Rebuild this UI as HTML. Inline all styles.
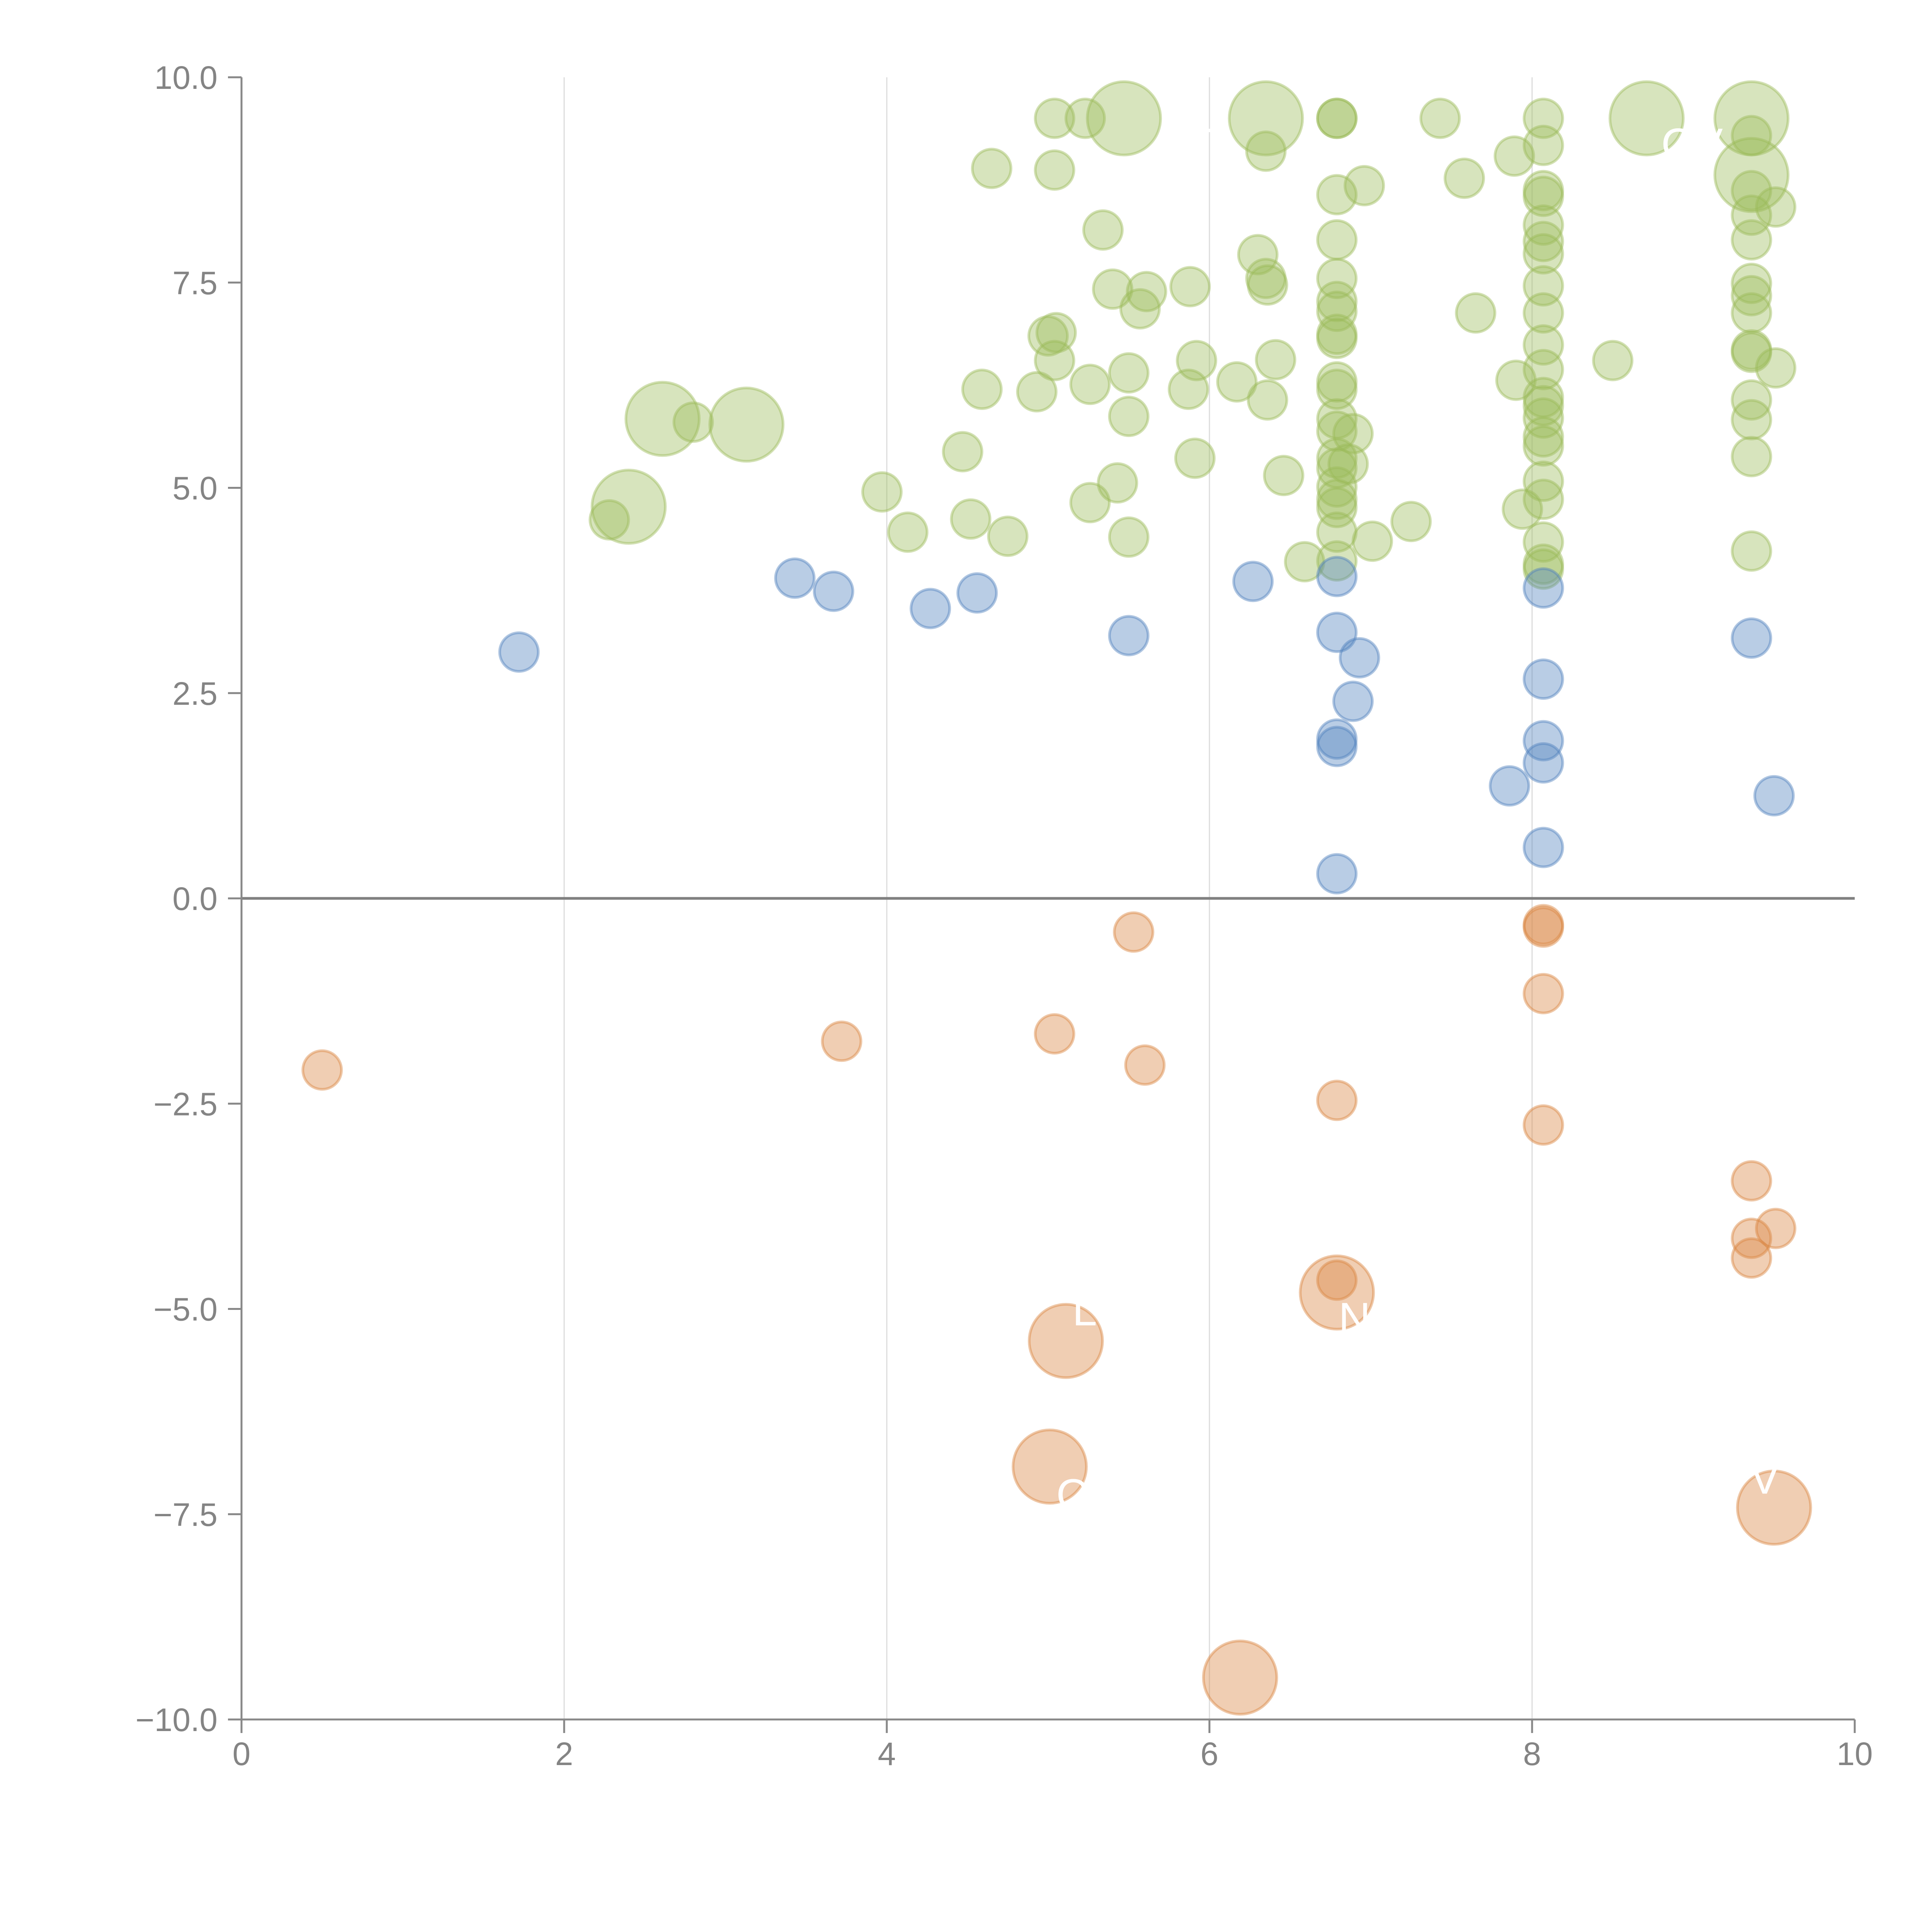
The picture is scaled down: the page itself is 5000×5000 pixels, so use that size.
<!DOCTYPE html>
<html><head><meta charset="utf-8"><style>
html,body{margin:0;padding:0;background:#fff}
svg{display:block}
text{font-family:"Liberation Sans",Arial,sans-serif}
</style></head><body>
<svg id="chart" width="5000" height="5000" viewBox="0 0 5000 5000">
<g id="grid"></g>
<g id="marks"></g>
<g id="labels"></g>
<g id="axes"></g>
</svg>
<script>
const xTicks = [0, 2, 4, 6, 8, 10];
const yTicks = [-10, -7.5, -5, -2.5, 0, 2.5, 5, 7.5, 10];
const yTickLabels = ["\u221210.0","\u22127.5","\u22125.0","\u22122.5","0.0","2.5","5.0","7.5","10.0"];

const greenX = [5.04,5.23,6.79,6.79,7.43,8.07,
 4.65,5.04,6.35,7.89,7.58,6.96,6.79,8.07,8.07,8.07,9.36,9.36,9.51,9.36,9.36,
 5.34,6.3,6.79,6.79,6.35,6.36,5.88,5.4,5.61,5.57,6.79,6.79,7.65,8.07,8.07,8.07,8.07,8.07,9.36,9.36,9.36,
 5.0,5.05,5.04,5.92,6.41,6.79,6.79,8.07,8.07,8.5,9.36,9.36,9.51,
 5.5,5.26,6.17,5.87,4.93,4.59,6.36,6.79,6.79,7.9,8.07,8.07,8.07,9.36,9.36,
 2.8,5.5,6.79,6.79,6.89,8.07,8.07,9.36,
 4.47,5.91,6.79,6.79,6.86,6.46,5.43,8.07,6.79,6.79,8.07,3.97,2.28,4.52,5.26,6.79,7.94,7.25,4.13,4.75,5.5,6.79,7.01,8.07,9.36,6.59,6.79,8.07,8.07];
const greenY = [9.5,9.5,9.5,9.5,9.5,9.5,
 8.89,8.87,9.1,9.04,8.77,8.68,8.57,9.17,8.62,8.55,9.29,8.62,8.42,8.32,8.02,
 8.14,7.84,8.02,7.55,7.55,7.47,7.45,7.42,7.39,7.18,7.27,7.15,7.13,8.2,8.0,7.85,7.46,7.13,7.49,7.34,7.13,
 6.85,6.89,6.55,6.55,6.56,6.87,6.82,6.74,6.44,6.55,6.68,6.65,6.46,
 6.4,6.26,6.29,6.2,6.17,6.2,6.07,6.29,6.2,6.31,6.1,6.0,5.85,6.07,5.83,
 5.8,5.87,5.84,5.69,5.66,5.62,5.51,5.38,
 5.44,5.36,5.36,5.24,5.29,5.15,5.06,5.08,5.01,4.86,4.86,4.95,4.61,4.62,4.82,4.76,4.74,4.59,4.46,4.41,4.4,4.46,4.35,4.34,4.23,4.1,4.11,4.07,4.01];
const greenSize = greenX.map(()=>1);
const greenBigX = [5.47,6.35,8.71,9.36,9.36,2.61,3.13,2.4];
const greenBigY = [9.5,9.5,9.5,9.5,8.81,5.84,5.77,4.77];

const blueX = [1.72,3.43,3.67,4.27,4.56,5.5,6.27,6.79,6.79,6.93,6.89,6.79,6.79,6.79,8.07,8.07,8.07,8.07,7.86,8.07,9.36,9.5];
const blueY = [3.0,3.9,3.74,3.53,3.72,3.2,3.86,3.92,3.24,2.93,2.4,1.94,1.85,0.3,3.78,2.67,1.92,1.65,1.37,0.62,3.17,1.25];

const orangeX = [0.5,3.72,5.04,5.53,5.6,6.79,8.07,8.07,8.07,8.07,9.36,9.36,9.51,9.36,6.79,6.79,5.11,5.01,9.5,6.19];
const orangeY = [-2.09,-1.74,-1.65,-0.41,-2.03,-2.46,-0.32,-0.35,-1.16,-2.76,-3.44,-4.14,-4.02,-4.38,-4.65,-4.8,-5.39,-6.92,-7.42,-9.49];
const orangeSize = [1,1,1,1,1,1,1,1,1,1,1,1,1,1,1,3.6,3.6,3.6,3.6,3.6];

const labelText = ["CT","CV","N","L","C","V"];
const labelX = [5.7,8.8,6.8,5.15,5.05,9.35];
const labelY = [9.0,9.0,-5.3,-5.2,-7.45,-7.25];

const X0=625, X1=4800, Y0=4450, Y1=200;
const sx = v => X0 + (v-0)/(10-0)*(X1-X0);
const sy = v => Y0 - (v+10)/20*(Y0-Y1);
const NS="http://www.w3.org/2000/svg";
const mk=(t,a,p)=>{const e=document.createElementNS(NS,t);for(const k in a)e.setAttribute(k,a[k]);p.appendChild(e);return e;};
const grid=document.getElementById('grid'), marks=document.getElementById('marks'), axes=document.getElementById('axes'), labels=document.getElementById('labels');

xTicks.forEach(t=>{ if(t>0&&t<10){
  const l=mk('line',{x1:sx(t),x2:sx(t),y1:Y1,y2:Y0,stroke:'#dcdcdc','stroke-width':3},grid);
  
  
}});

function bubble(x,y,s,color,name){
  const c=mk('circle',{cx:sx(x),cy:sy(y),r:50*Math.sqrt(s),fill:color,'fill-opacity':0.4,stroke:color,'stroke-opacity':0.45,'stroke-width':7},marks);
  
  
}
const G='#9bbb59', B='#4f81bd', O='#d98540';
greenX.forEach((x,i)=>bubble(x,greenY[i],greenSize[i],G,'green-bubble'));
greenBigX.forEach((x,i)=>bubble(x,greenBigY[i],3.6,G,'green-bubble-large'));
blueX.forEach((x,i)=>bubble(x,blueY[i],1,B,'blue-bubble'));
orangeX.forEach((x,i)=>bubble(x,orangeY[i],orangeSize[i],O,'orange-bubble'));

labelText.forEach((t,i)=>{
  const tx=mk('text',{x:sx(labelX[i]),y:sy(labelY[i]),fill:'#fff','font-size':115},labels);
  tx.textContent=t;
  
  
});

const z=mk('line',{x1:X0,x2:X1,y1:sy(0),y2:sy(0),stroke:'#808080','stroke-width':7},axes);


const ya=mk('line',{x1:X0,x2:X0,y1:Y1,y2:Y0+35,stroke:'#888','stroke-width':5},axes);


const xa=mk('line',{x1:X0-35,x2:X1,y1:Y0,y2:Y0,stroke:'#888','stroke-width':5},axes);


yTicks.forEach((t,i)=>{
  const tk=mk('line',{x1:X0-35,x2:X0,y1:sy(t),y2:sy(t),stroke:'#888','stroke-width':5},axes);
  
  
  const tl=mk('text',{x:X0-62,y:sy(t)+30,'text-anchor':'end',fill:'#848484','font-size':84},axes);
  tl.textContent=yTickLabels[i];
  
  
});
xTicks.forEach(t=>{
  const tk=mk('line',{x1:sx(t),x2:sx(t),y1:Y0,y2:Y0+35,stroke:'#888','stroke-width':5},axes);
  
  
  const tl=mk('text',{x:sx(t),y:Y0+118,'text-anchor':'middle',fill:'#848484','font-size':84},axes);
  tl.textContent=String(t);
  
  
});
</script>
</body></html>
